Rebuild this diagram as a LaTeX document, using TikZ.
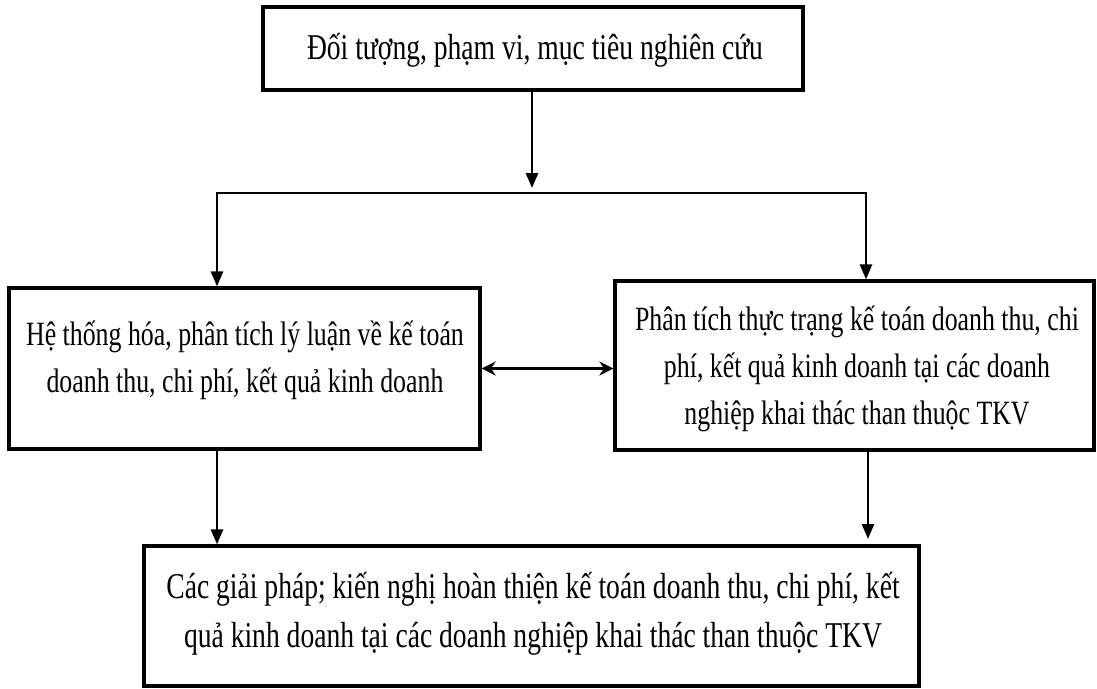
\documentclass[tikz,border=0pt]{standalone}
\usepackage{fontspec}
\setmainfont[FakeStretch=0.76]{Liberation Serif}
\usetikzlibrary{arrows.meta}
\begin{document}
\begin{tikzpicture}[x=1pt,y=-1pt,
  box/.style={draw=black,line width=3.2pt,inner sep=0pt},
  lbl/.style={align=center,font=\fontsize{34}{47}\selectfont,inner sep=0pt},
  lblbig/.style={align=center,font=\fontsize{36.3}{49}\selectfont,inner sep=0pt},
  conn/.style={line width=2.6pt,-{Triangle[length=15pt,width=12pt]}},
  conn2/.style={line width=2.6pt,{Triangle[length=15pt,width=12pt]}-{Triangle[length=15pt,width=12pt]}},
  dbl/.style={line width=3pt,{Stealth[length=14pt,width=14pt]}-{Stealth[length=14pt,width=14pt]}}]
\useasboundingbox[fill=white] (0,0) rectangle (1097,688);
% boxes
\node[box,minimum width=540pt,minimum height=83pt] (top) at (533,48.5) {};
\node[box,minimum width=471pt,minimum height=161pt] (lbox) at (244.5,368.5) {};
\node[box,minimum width=479pt,minimum height=169pt] (rbox) at (854.5,365.5) {};
\node[box,minimum width=775pt,minimum height=140pt] (bbox) at (531.5,616) {};
% texts
\node[lblbig] (ttop) at (535,50) {Đối tượng, phạm vi, mục tiêu nghiên cứu};
\node[lbl] (tl) at (245,360) {Hệ thống hóa, phân tích lý luận về kế toán\\doanh thu, chi phí, kết quả kinh doanh};
\node[lbl] (tr) at (857,369) {Phân tích thực trạng kế toán doanh thu, chi\\phí, kết quả kinh doanh tại các doanh\\nghiệp khai thác than thuộc TKV};
\node[lblbig] (tb) at (533,614) {Các giải pháp; kiến nghị hoàn thiện kế toán doanh thu, chi phí, kết\\quả kinh doanh tại các doanh nghiệp khai thác than thuộc TKV};
% connectors
\coordinate (tj) at (532,188);
\coordinate (jl) at (217,193);
\coordinate (jr) at (866,193);
\coordinate (bl) at (217,449);
\coordinate (br) at (868,539);
\draw[conn] (top.south -| tj) -- (tj);
\draw[conn2] (jl |- lbox.north) -- (jl) -- (jr) -- (jr |- rbox.north);
\draw[conn] (bl |- lbox.south) -- (bl |- bbox.north);
\draw[conn] (br |- rbox.south) -- (br);
\draw[dbl] (lbox.east) -- (lbox.east -| rbox.west);
\end{tikzpicture}
\end{document}
